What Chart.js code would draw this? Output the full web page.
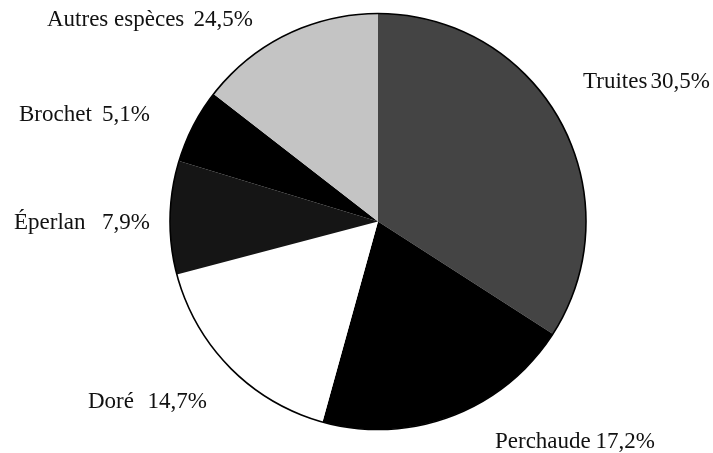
<!DOCTYPE html>
<html>
<head>
<meta charset="utf-8">
<script src="https://cdn.jsdelivr.net/npm/chart.js@4/dist/chart.umd.min.js"></script>
<style>
  html, body { margin: 0; padding: 0; background: #fff; }
  #wrap { width: 713px; height: 453px; }
</style>
</head>
<body>
<div id="wrap"><canvas id="pieChart"></canvas></div>
<script>
// species, clockwise from the top
const species = ['Truites', 'Perchaude', 'Doré', 'Éperlan', 'Brochet', 'Autres espèces'];
// share as drawn (angles)
const shares = [34.1, 20.2, 16.6, 8.8, 5.8, 14.5];
// percentages as printed next to each slice
const pctLabels = ['30,5%', '17,2%', '14,7%', '7,9%', '5,1%', '24,5%'];

const fills = ['#444444', '#000000', '#ffffff', '#151515', '#000000', '#c4c4c4'];

// where each label sits: left edge of the name, right edge of the percentage, middle line
const labelSpots = [
  {left: 583, right: 710, y: 82},
  {left: 495, right: 655, y: 442},
  {left: 88,  right: 207, y: 402},
  {left: 14,  right: 150, y: 223},
  {left: 19,  right: 150, y: 115},
  {left: 47,  right: 253, y: 20}
];

// outline only round the outside of the pie, like the original
const outerRing = {
  id: 'outerRing',
  afterDatasetsDraw(chart) {
    const arc = chart.getDatasetMeta(0).data[0];
    if (!arc) return;
    const ctx = chart.ctx;
    ctx.save();
    ctx.strokeStyle = '#000';
    ctx.lineWidth = 1.6;
    ctx.beginPath();
    ctx.arc(arc.x, arc.y, arc.outerRadius, 0, Math.PI * 2);
    ctx.stroke();
    ctx.restore();
  }
};

const sliceLabels = {
  id: 'sliceLabels',
  afterDraw(chart) {
    const ctx = chart.ctx;
    ctx.save();
    ctx.fillStyle = '#111';
    ctx.font = '23px "Liberation Serif", "Times New Roman", serif';
    ctx.textBaseline = 'middle';
    species.forEach((name, i) => {
      const s = labelSpots[i];
      ctx.textAlign = 'left';
      ctx.fillText(name, s.left, s.y);
      ctx.textAlign = 'right';
      ctx.fillText(pctLabels[i], s.right, s.y);
    });
    ctx.restore();
  }
};

const data = {
  labels: species,
  datasets: [{
    data: shares,
    backgroundColor: fills,
    borderWidth: 0
  }]
};

const config = {
  type: 'pie',
  data,
  options: {
    responsive: true,
    maintainAspectRatio: false,
    animation: false,
    radius: 208,
    layout: { padding: { left: 43, right: 0, top: 13, bottom: 23 } },
    plugins: {
      legend: { display: false },
      tooltip: { enabled: false }
    }
  },
  plugins: [outerRing, sliceLabels]
};

new Chart(document.getElementById('pieChart'), config);
</script>
</body>
</html>
